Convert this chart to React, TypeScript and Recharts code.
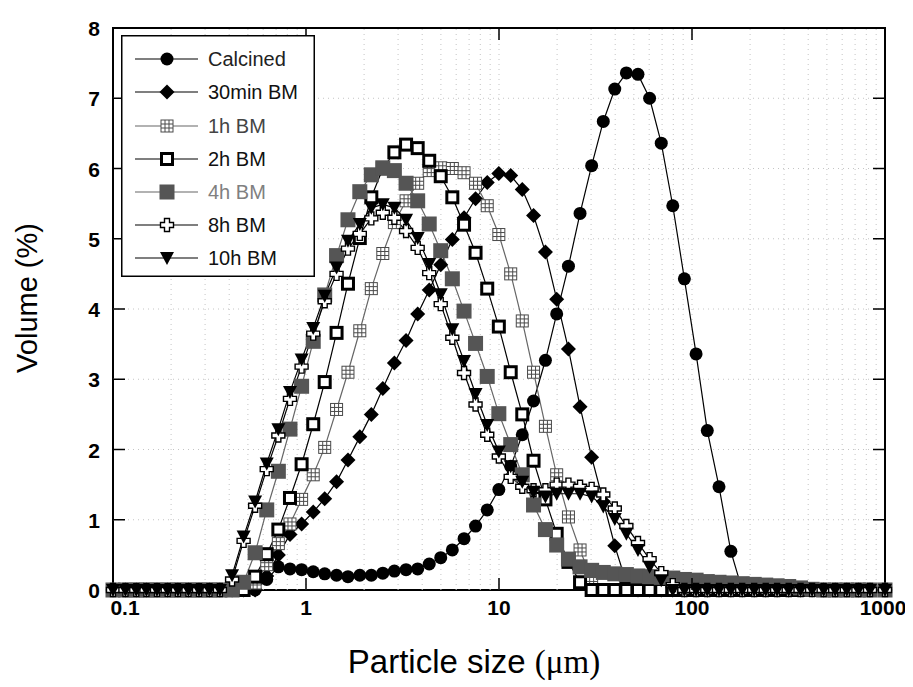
import React from 'react';
import { LineChart, Line, XAxis, YAxis, ReferenceLine, ReferenceArea, Legend } from 'recharts';

// Particle size (µm) – channel positions
const sizes = [0.1, 0.116, 0.132, 0.149, 0.169, 0.192, 0.217, 0.246, 0.279, 0.316, 0.358, 0.414, 0.475, 0.545, 0.626, 0.719, 0.826, 0.949, 1.09, 1.25, 1.44, 1.65, 1.9, 2.18, 2.5, 2.87, 3.3, 3.79, 4.35, 4.99, 5.73, 6.59, 7.56, 8.69, 9.98, 11.5, 13.2, 15.1, 17.4, 19.9, 22.9, 26.3, 30.2, 34.7, 39.8, 45.7, 52.5, 60.3, 69.3, 79.5, 91.3, 105, 120, 138, 159, 182, 210, 241, 276, 317, 365, 419, 481, 552, 634, 728, 836, 1000];

const calcined = [0, 0, 0, 0, 0, 0, 0, 0, 0, 0, 0, 0, 0, 0, 0.15, 0.33, 0.3, 0.29, 0.26, 0.23, 0.21, 0.19, 0.21, 0.21, 0.24, 0.27, 0.29, 0.3, 0.37, 0.46, 0.57, 0.73, 0.91, 1.14, 1.43, 1.76, 2.21, 2.69, 3.27, 3.93, 4.61, 5.36, 6.04, 6.67, 7.13, 7.36, 7.34, 7.0, 6.36, 5.47, 4.43, 3.36, 2.27, 1.47, 0.55, 0, 0, 0, 0, 0, 0, 0, 0, 0, 0, 0, 0, 0];
const bm30min = [0, 0, 0, 0, 0, 0, 0, 0, 0, 0, 0, 0, 0, 0, 0.2, 0.5, 0.79, 0.94, 1.11, 1.3, 1.54, 1.85, 2.18, 2.5, 2.87, 3.23, 3.55, 3.93, 4.27, 4.63, 4.99, 5.3, 5.57, 5.8, 5.93, 5.9, 5.7, 5.33, 4.81, 4.14, 3.43, 2.61, 1.89, 1.26, 0.63, 0.1, 0, 0, 0, 0, 0, 0, 0, 0, 0, 0, 0, 0, 0, 0, 0, 0, 0, 0, 0, 0, 0, 0];
const bm1h = [0, 0, 0, 0, 0, 0, 0, 0, 0, 0, 0, 0, 0, 0.1, 0.36, 0.66, 0.94, 1.29, 1.64, 2.03, 2.57, 3.1, 3.69, 4.29, 4.79, 5.23, 5.54, 5.79, 5.97, 6.01, 6.0, 5.94, 5.79, 5.47, 5.06, 4.5, 3.83, 3.1, 2.33, 1.64, 1.04, 0.57, 0.15, 0, 0, 0, 0, 0, 0, 0, 0, 0, 0, 0, 0, 0, 0, 0, 0, 0, 0, 0, 0, 0, 0, 0, 0, 0];
const bm2h = [0, 0, 0, 0, 0, 0, 0, 0, 0, 0, 0, 0, 0, 0.19, 0.51, 0.86, 1.31, 1.79, 2.36, 2.96, 3.66, 4.36, 5.01, 5.59, 6.0, 6.23, 6.34, 6.29, 6.11, 5.89, 5.59, 5.2, 4.8, 4.29, 3.75, 3.1, 2.5, 1.84, 1.29, 0.8, 0.4, 0.11, 0, 0, 0, 0, 0, 0, 0, 0, 0, 0, 0, 0, 0, 0, 0, 0, 0, 0, 0, 0, 0, 0, 0, 0, 0, 0];
const bm4h = [0, 0, 0, 0, 0, 0, 0, 0, 0, 0, 0, 0, 0.11, 0.53, 1.14, 1.69, 2.29, 2.9, 3.54, 4.2, 4.76, 5.27, 5.67, 5.91, 6.01, 5.97, 5.79, 5.54, 5.21, 4.83, 4.43, 3.97, 3.51, 3.04, 2.51, 2.07, 1.64, 1.21, 0.86, 0.64, 0.44, 0.33, 0.28, 0.25, 0.23, 0.22, 0.2, 0.19, 0.18, 0.17, 0.15, 0.14, 0.12, 0.11, 0.1, 0.09, 0.08, 0.07, 0.06, 0.05, 0.03, 0.01, 0, 0, 0, 0, 0, 0];
const bm8h = [0, 0, 0, 0, 0, 0, 0, 0, 0, 0, 0, 0.15, 0.7, 1.2, 1.72, 2.2, 2.72, 3.18, 3.65, 4.11, 4.5, 4.86, 5.07, 5.29, 5.37, 5.3, 5.11, 4.87, 4.51, 4.07, 3.59, 3.09, 2.64, 2.21, 1.9, 1.61, 1.47, 1.42, 1.42, 1.5, 1.5, 1.47, 1.44, 1.36, 1.16, 0.91, 0.67, 0.44, 0.24, 0.07, 0, 0, 0, 0, 0, 0, 0, 0, 0, 0, 0, 0, 0, 0, 0, 0, 0, 0];
const bm10h = [0, 0, 0, 0, 0, 0, 0, 0, 0, 0, 0, 0.21, 0.76, 1.26, 1.8, 2.29, 2.82, 3.28, 3.73, 4.19, 4.59, 4.97, 5.21, 5.44, 5.49, 5.44, 5.27, 5.01, 4.64, 4.21, 3.71, 3.26, 2.79, 2.35, 1.97, 1.76, 1.54, 1.4, 1.33, 1.37, 1.37, 1.37, 1.33, 1.19, 1.01, 0.8, 0.57, 0.33, 0.14, 0, 0, 0, 0, 0, 0, 0, 0, 0, 0, 0, 0, 0, 0, 0, 0, 0, 0, 0];

const xTicks = [0.1, 1, 10, 100, 1000];
const yTicks = [0, 1, 2, 3, 4, 5, 6, 7, 8];
const xGrid = [0.2, 0.3, 0.4, 0.5, 0.6, 0.7, 0.8, 0.9, 1, 2, 3, 4, 5, 6, 7, 8, 9, 10, 20, 30, 40, 50, 60, 70, 80, 90, 100, 200, 300, 400, 500, 600, 700, 800, 900];
const yGrid = [1, 2, 3, 4, 5, 6, 7];

type Kind = 'circle' | 'diamond' | 'hash' | 'openSquare' | 'graySquare' | 'cross' | 'triangle';

const series: { key: string; name: string; kind: Kind; line: string; text: string }[] = [
  { key: 'calcined', name: 'Calcined', kind: 'circle', line: '#000', text: '#222' },
  { key: 'bm30min', name: '30min BM', kind: 'diamond', line: '#000', text: '#111' },
  { key: 'bm1h', name: '1h BM', kind: 'hash', line: '#666', text: '#444' },
  { key: 'bm2h', name: '2h BM', kind: 'openSquare', line: '#000', text: '#111' },
  { key: 'bm4h', name: '4h BM', kind: 'graySquare', line: '#666', text: '#808080' },
  { key: 'bm8h', name: '8h BM', kind: 'cross', line: '#000', text: '#111' },
  { key: 'bm10h', name: '10h BM', kind: 'triangle', line: '#000', text: '#111' },
];

const data = sizes.map((s, i) => ({
  size: s,
  calcined: calcined[i],
  bm30min: bm30min[i],
  bm1h: bm1h[i],
  bm2h: bm2h[i],
  bm4h: bm4h[i],
  bm8h: bm8h[i],
  bm10h: bm10h[i],
}));

function marker(kind: Kind, cx: number, cy: number, key?: string | number) {
  if (cx == null || cy == null || isNaN(cx) || isNaN(cy)) return <g key={key} />;
  switch (kind) {
    case 'circle':
      return <circle key={key} cx={cx} cy={cy} r={6.5} fill="#000" />;
    case 'diamond':
      return <polygon key={key} points={`${cx},${cy - 7.5} ${cx + 7.5},${cy} ${cx},${cy + 7.5} ${cx - 7.5},${cy}`} fill="#000" />;
    case 'hash':
      return (
        <g key={key} stroke="#4a4a4a" strokeWidth={1} fill="none">
          <rect x={cx - 6} y={cy - 6} width={12} height={12} fill="#fff" />
          <line x1={cx - 2} y1={cy - 6} x2={cx - 2} y2={cy + 6} />
          <line x1={cx + 2} y1={cy - 6} x2={cx + 2} y2={cy + 6} />
          <line x1={cx - 6} y1={cy - 2} x2={cx + 6} y2={cy - 2} />
          <line x1={cx - 6} y1={cy + 2} x2={cx + 6} y2={cy + 2} />
        </g>
      );
    case 'openSquare':
      return <rect key={key} x={cx - 5.5} y={cy - 5.5} width={11} height={11} fill="#fff" stroke="#000" strokeWidth={3} />;
    case 'graySquare':
      return <rect key={key} x={cx - 7.5} y={cy - 7.5} width={15} height={15} fill="#555" />;
    case 'cross': {
      const a = 2.5, b = 6.5;
      const pts = [
        [-a, -b], [a, -b], [a, -a], [b, -a], [b, a], [a, a], [a, b], [-a, b], [-a, a], [-b, a], [-b, -a], [-a, -a],
      ].map(([x, y]) => `${cx + x},${cy + y}`).join(' ');
      return <polygon key={key} points={pts} fill="#fff" stroke="#000" strokeWidth={1.4} />;
    }
    case 'triangle':
      return <polygon key={key} points={`${cx - 7},${cy - 6} ${cx + 7},${cy - 6} ${cx},${cy + 7}`} fill="#000" />;
  }
  return <g key={key} />;
}

// plot-area geometry inside the svg
const PLOT_LEFT = 105;
const PLOT_RIGHT = 877;
const PLOT_TOP = 20;
const PLOT_BOTTOM = 582;
const TICK = 12;
const FONT = '"Liberation Sans", Arial, sans-serif';

const XTick = (props: any) => {
  const { x, payload } = props;
  const v = payload.value;
  const inner = v !== 0.1 && v !== 1000;
  const lx = v === 0.1 ? x + 12 : v === 1000 ? x - 2 : x;
  return (
    <g>
      {inner && <line x1={x} y1={PLOT_BOTTOM} x2={x} y2={PLOT_BOTTOM - TICK} stroke="#000" strokeWidth={1.5} />}
      {inner && <line x1={x} y1={PLOT_TOP} x2={x} y2={PLOT_TOP + TICK} stroke="#000" strokeWidth={1.5} />}
      <text x={lx} y={PLOT_BOTTOM + 25} textAnchor="middle" fontFamily={FONT} fontWeight="bold" fontSize={21} fill="#000">
        {String(v)}
      </text>
    </g>
  );
};

const YTick = (props: any) => {
  const { y, payload } = props;
  const v = payload.value;
  const inner = v !== 0 && v !== 8;
  return (
    <g>
      {inner && <line x1={PLOT_LEFT} y1={y} x2={PLOT_LEFT + TICK} y2={y} stroke="#000" strokeWidth={1.5} />}
      {inner && <line x1={PLOT_RIGHT} y1={y} x2={PLOT_RIGHT - TICK} y2={y} stroke="#000" strokeWidth={1.5} />}
      <text x={PLOT_LEFT - 13} y={y + 8} textAnchor="end" fontFamily={FONT} fontWeight="bold" fontSize={21} fill="#000">
        {String(v)}
      </text>
    </g>
  );
};

const LegendBox = () => {
  const rowY = [24, 57, 91, 124, 157, 190, 223];
  return (
    <svg width={194} height={242} style={{ display: 'block' }}>
      <rect x={0.75} y={0.75} width={192.5} height={240.5} fill="#fff" stroke="#000" strokeWidth={1.5} />
      {series.map((s, i) => (
        <g key={s.key}>
          <line x1={14} y1={rowY[i]} x2={77} y2={rowY[i]} stroke={s.line} strokeWidth={1.2} />
          {marker(s.kind, 46, rowY[i])}
          <text x={87} y={rowY[i] + 7} fontFamily={FONT} fontSize={20} fill={s.text}>
            {s.name}
          </text>
        </g>
      ))}
    </svg>
  );
};

export default function App() {
  return (
    <div style={{ width: 905, height: 679, position: 'relative', background: '#fff' }}>
      <LineChart width={905} height={679} data={data} margin={{ top: 20, right: 28, left: 45, bottom: 37 }}>
        {xGrid.map((g) => (
          <ReferenceLine key={'vx' + g} x={g} stroke="#c4c4c4" strokeWidth={1} strokeDasharray="1 4" />
        ))}
        {yGrid.map((g) => (
          <ReferenceLine key={'hy' + g} y={g} stroke="#c4c4c4" strokeWidth={1} strokeDasharray="1 4" />
        ))}
        <XAxis
          dataKey="size"
          type="number"
          scale="log"
          domain={[0.1, 1000]}
          ticks={xTicks}
          interval={0}
          height={60}
          tickLine={false}
          axisLine={false}
          tick={<XTick />}
          label={{
            content: () => (
              <text x={466} y={665} textAnchor="middle" fontFamily={FONT} fontSize={33} fill="#000">
                Particle size <tspan fontFamily='"Liberation Serif", "Times New Roman", serif'>(μm)</tspan>
              </text>
            ),
          }}
        />
        <YAxis
          type="number"
          domain={[0, 8]}
          ticks={yTicks}
          interval={0}
          width={60}
          tickLine={false}
          axisLine={false}
          tick={<YTick />}
          label={{
            content: () => (
              <text x={29} y={290} transform="rotate(-90 29 290)" textAnchor="middle" fontFamily={FONT} fontSize={29} fill="#000">
                Volume (%)
              </text>
            ),
          }}
        />
        <ReferenceArea x1={0.1} x2={1000} y1={0} y2={8} fill="none" stroke="#000" strokeWidth={2} ifOverflow="visible" />
        {series.map((s) => (
          <Line
            key={s.key}
            dataKey={s.key}
            name={s.name}
            type="linear"
            stroke={s.line}
            strokeWidth={1.2}
            isAnimationActive={false}
            activeDot={false}
            dot={(p: any) => marker(s.kind, p.cx, p.cy, s.key + '-' + p.index)}
          />
        ))}
        <Legend
          layout="vertical"
          align="center"
          verticalAlign="middle"
          content={() => <LegendBox />}
          wrapperStyle={{ position: 'absolute', left: 113, top: 27, width: 194, height: 242 }}
        />
      </LineChart>
    </div>
  );
}
